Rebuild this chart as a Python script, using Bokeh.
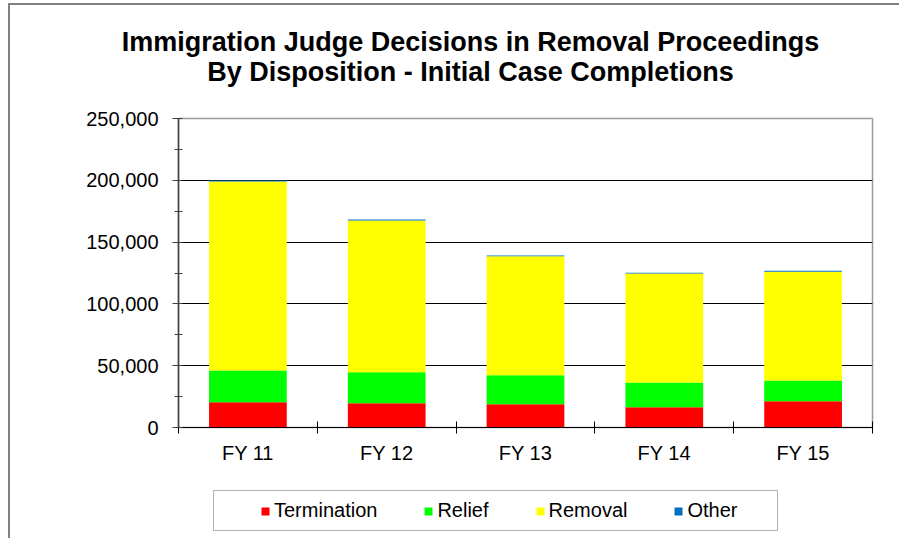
from bokeh.plotting import figure
from bokeh.layouts import column
from bokeh.models import (ColumnDataSource, Label, Legend, LegendItem, FixedTicker,
                          SingleIntervalTicker, NumeralTickFormatter, BoxAnnotation, Range1d)
from bokeh.embed import file_html
from bokeh.resources import INLINE

# ---- data ----
categories = ["FY 11", "FY 12", "FY 13", "FY 14", "FY 15"]
termination = [20500, 19700, 18900, 16400, 21300]
relief = [25600, 25000, 23400, 20000, 16700]
removal = [152900, 122800, 96200, 88100, 88000]
other = [900, 800, 700, 700, 800]
series = ["Termination", "Relief", "Removal", "Other"]
colors = ["#FF0000", "#00FF00", "#FFFF00", "#0070C0"]
y_min, y_max, y_step = 0, 250000, 50000
title_lines = ["Immigration Judge Decisions in Removal Proceedings",
               "By Disposition - Initial Case Completions"]

FONT = "Liberation Sans"
W = 899
H_TITLE, H_MAIN, H_LEG = 100, 380, 58

x = [i + 0.5 for i in range(len(categories))]
source = ColumnDataSource(dict(x=x, Termination=termination, Relief=relief,
                               Removal=removal, Other=other))


def blank_fig(h):
    f = figure(width=W, height=h, output_backend="svg", toolbar_location=None,
               x_range=Range1d(0, W), y_range=Range1d(0, h),
               x_axis_location=None, y_axis_location=None,
               min_border=0, min_border_left=0, min_border_right=0,
               min_border_top=0, min_border_bottom=0, frame_align=False)
    f.grid.visible = False
    f.outline_line_color = None
    f.background_fill_color = None
    f.border_fill_color = None
    return f


# ---- title strip ----
pt = blank_fig(H_TITLE)
for i, t in enumerate(title_lines):
    pt.add_layout(Label(x=470, y=59 - 30 * i, text=t, text_align="center",
                        text_baseline="middle", text_font=FONT,
                        text_font_size="27px", text_font_style="bold",
                        text_color="black"))

# ---- main chart ----
p = figure(width=W, height=H_MAIN, output_backend="svg", toolbar_location=None,
           x_range=Range1d(0, len(categories)), y_range=Range1d(y_min, y_max),
           min_border_left=178, min_border_right=27, min_border_top=18,
           min_border_bottom=53, frame_align=False)
p.border_fill_color = None
p.background_fill_color = "white"
p.outline_line_color = "#9a9a9a"
p.outline_line_width = 1.5

p.vbar_stack(series, x="x", width=0.56, color=colors, line_color=None, source=source)

p.xgrid.visible = False
p.ygrid.grid_line_color = "black"
p.ygrid.grid_line_width = 1

yax = p.yaxis[0]
yax.ticker = SingleIntervalTicker(interval=y_step, num_minor_ticks=2)
yax.formatter = NumeralTickFormatter(format="0,0")
yax.major_tick_out = 6
yax.major_tick_in = 0
yax.minor_tick_out = 4
yax.minor_tick_in = 4
yax.axis_line_color = "#404040"
yax.axis_line_width = 1.5
yax.major_tick_line_color = "#404040"
yax.minor_tick_line_color = "#404040"
yax.major_label_text_font = FONT
yax.major_label_text_font_size = "20px"
yax.major_label_text_color = "black"
yax.major_label_standoff = 14

xax = p.xaxis[0]
xax.ticker = FixedTicker(ticks=x, minor_ticks=list(range(len(categories) + 1)))
xax.major_label_overrides = {xi: c for xi, c in zip(x, categories)}
xax.major_tick_in = 0
xax.major_tick_out = 0
xax.minor_tick_in = 6
xax.minor_tick_out = 6
xax.axis_line_color = "black"
xax.minor_tick_line_color = "black"
xax.major_label_text_font = FONT
xax.major_label_text_font_size = "20px"
xax.major_label_text_color = "black"
xax.major_label_standoff = 8

# ---- legend strip ----
pl = blank_fig(H_LEG)
pl.add_layout(BoxAnnotation(left=213, right=777, bottom=8, top=48,
                            fill_color="white", fill_alpha=1,
                            line_color="black", line_width=1))
leg_renderers = pl.vbar_stack(series, x="x", width=0.56, color=colors,
                              line_color=None, source=source)
for r in leg_renderers:
    r.visible = False
legend = Legend(items=[LegendItem(label=s, renderers=[r])
                       for s, r in zip(series, leg_renderers)],
                orientation="horizontal", location=(260, 16), spacing=46, padding=0,
                margin=0, glyph_width=10, glyph_height=10, label_standoff=4,
                label_text_font=FONT, label_text_font_size="20px",
                label_text_color="black", border_line_color=None,
                background_fill_alpha=0, click_policy="none")
pl.add_layout(legend)

layout = column(pt, p, pl, spacing=0)
layout.styles = {
    "background-image": "linear-gradient(#808080, #808080), linear-gradient(#808080, #808080)",
    "background-size": "2px 100%, 100% 2px",
    "background-position": "8px 3px, 8px 3px",
    "background-repeat": "no-repeat",
}

open("out.html", "w").write(file_html(layout, INLINE))
